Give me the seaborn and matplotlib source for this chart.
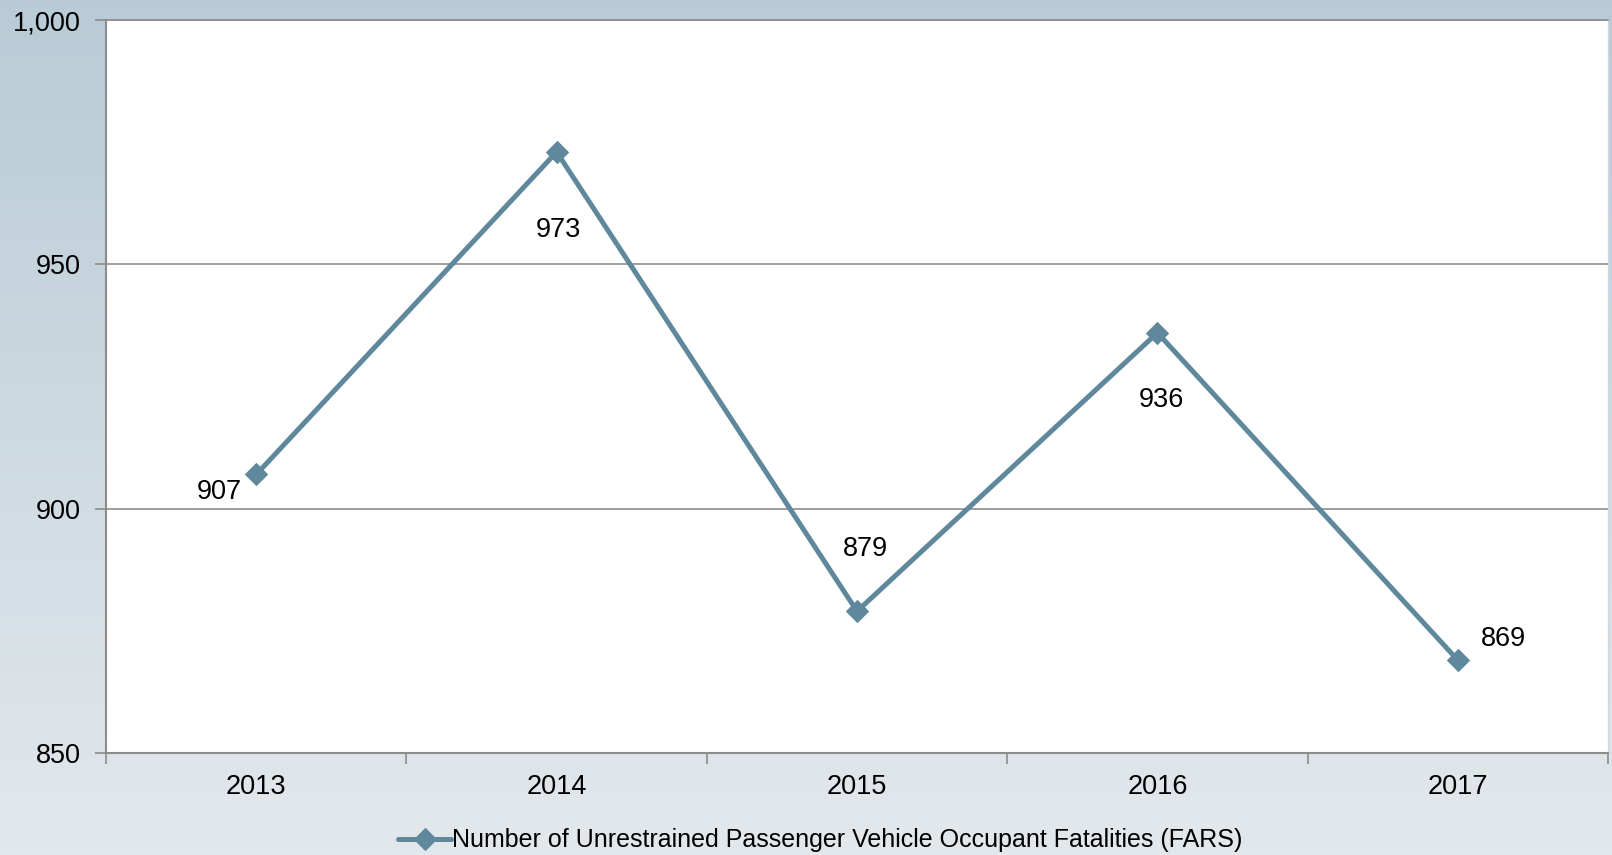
import numpy as np
import pandas as pd
import matplotlib
matplotlib.use("Agg")
import matplotlib.pyplot as plt
import seaborn as sns

years = ["2013", "2014", "2015", "2016", "2017"]
fatalities = [907, 973, 879, 936, 869]
series_name = "Number of Unrestrained Passenger Vehicle Occupant Fatalities (FARS)"
# label offsets in pixels (dx, dy) relative to each point
label_offsets = [(-37, -18), (2, -78), (8, 62), (4, -67), (46, 21)]

df = pd.DataFrame({"year": years, "value": fatalities})

sns.set_theme(style="white")
plt.rcParams["font.family"] = ["Liberation Sans", "DejaVu Sans"]

line_color = "#5F889C"
grid_color = "#8C8C8C"

fig = plt.figure(figsize=(16.12, 8.55), dpi=100)

# gradient background over the whole figure
bg = fig.add_axes([0, 0, 1, 1], zorder=-10)
top = np.array([0.722, 0.796, 0.839])
bottom = np.array([0.890, 0.910, 0.925])
t = np.linspace(0, 1, 256)[:, None]
grad = top * (1 - t) + bottom * t
bg.imshow(grad[:, None, :], aspect="auto", extent=[0, 1, 0, 1])
bg.axis("off")

ax = fig.add_axes([0.0658, 0.1193, 0.9317, 0.8573])
ax.set_facecolor("white")

sns.lineplot(data=df, x="year", y="value", ax=ax, color=line_color,
             linewidth=3.6, marker="D", markersize=11, markeredgecolor=line_color,
             label=series_name, sort=False)

ax.set_xlim(-0.5, 4.5)
ax.set_ylim(850, 1000)
ax.set_yticks([850, 900, 950, 1000])
ax.set_yticklabels([f"{v:,}" for v in [850, 900, 950, 1000]])
ax.set_xlabel("")
ax.set_ylabel("")

# Excel style: category ticks between labels
ax.set_xticks(np.arange(-0.5, 5, 1))
ax.set_xticklabels([])
ax.set_xticks(range(5), minor=True)
ax.set_xticklabels(years, minor=True)
ax.tick_params(axis="x", which="major", direction="out", length=8, width=1.2,
               color=grid_color, bottom=True)
ax.tick_params(axis="x", which="minor", length=0, pad=15, labelsize=19.5,
               labelcolor="black")
ax.tick_params(axis="y", direction="out", length=8, width=1.2, color=grid_color,
               left=True, pad=10, labelsize=19.5, labelcolor="black")

ax.yaxis.grid(True, color=grid_color, linewidth=1.2)
ax.set_axisbelow(True)
for side in ["left", "bottom"]:
    ax.spines[side].set_color(grid_color)
    ax.spines[side].set_linewidth(1.5)
ax.spines["top"].set_color(grid_color)
ax.spines["top"].set_linewidth(1.2)
ax.spines["right"].set_color("#D0D8DD")
ax.spines["right"].set_linewidth(1)

for i, (v, off) in enumerate(zip(fatalities, label_offsets)):
    ax.annotate(str(v), (i, v), xytext=off, textcoords="offset pixels",
                ha="center", va="center", fontsize=19.5, color="black")

leg = ax.legend(loc="center", bbox_to_anchor=(0.509, 0.017),
                bbox_transform=fig.transFigure, frameon=False, fontsize=18,
                handlelength=2.1, handletextpad=0.05, labelcolor="black")

fig.savefig("out.png", dpi=100)
